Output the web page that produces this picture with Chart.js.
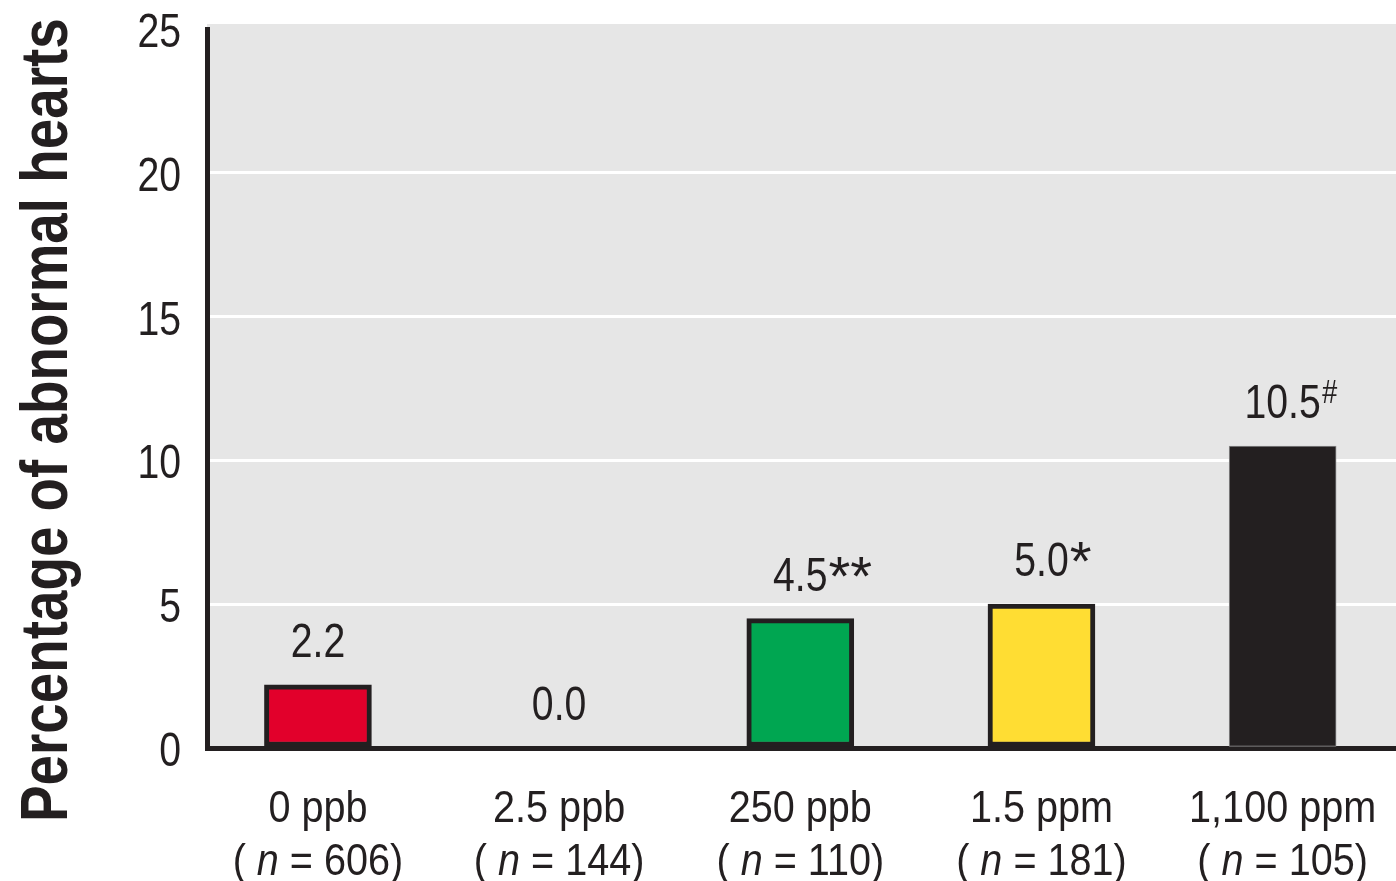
<!DOCTYPE html>
<html>
<head>
<meta charset="utf-8">
<script src="https://cdn.jsdelivr.net/npm/chart.js@4"></script>
<style>
    html, body { margin: 0; padding: 0; background: #ffffff; overflow: hidden; }
    #wrap { width: 1396px; height: 881px; }
</style>
</head>
<body>
<div id="wrap"><canvas id="heartChart"></canvas></div>
<script>
const doses = ['0 ppb', '2.5 ppb', '250 ppb', '1.5 ppm', '1,100 ppm'];
const sampleSizes = [606, 144, 110, 181, 105];
const percentAbnormal = [2.2, 0.0, 4.5, 5.0, 10.5];
const significance = ['', '', '**', '*', '#'];
const yTicks = [0, 5, 10, 15, 20, 25];
const yTitle = 'Percentage of abnormal hearts';

const ink = '#231f20';
const face = "'Liberation Sans', Arial, sans-serif";

Chart.defaults.font.family = face;
Chart.defaults.color = ink;

// draws text squeezed horizontally to look like a condensed face
function narrowText(ctx, s, x, y, font, sx, align) {
    ctx.save();
    ctx.font = font;
    const w = ctx.measureText(s).width * sx;
    let left = x;
    if (align === 'center') left = x - w / 2;
    if (align === 'right') left = x - w;
    ctx.translate(left, y);
    ctx.scale(sx, 1);
    ctx.textAlign = 'left';
    ctx.textBaseline = 'alphabetic';
    ctx.fillText(s, 0, 0);
    ctx.restore();
    return w;
}

let labelsPlugin = {
    id: 'heartLabels',
    beforeDraw: function (chart) {
        const ctx = chart.ctx;
        const a = chart.chartArea;
        ctx.save();
        ctx.fillStyle = '#ffffff';
        ctx.fillRect(0, 0, chart.width, chart.height);
        ctx.fillStyle = '#e6e6e6';
        ctx.fillRect(a.left, a.top - 5, a.right - a.left, a.bottom - a.top + 5);
        ctx.restore();
    },
    afterDatasetsDraw: function (chart) {
        const ctx = chart.ctx;
        const x = chart.scales.x;
        const y = chart.scales.y;
        ctx.save();
        ctx.fillStyle = ink;

        // y tick labels
        yTicks.forEach(function (t) {
            narrowText(ctx, String(t), 181, y.getPixelForValue(t) + 18, '49px ' + face, 0.8, 'right');
        });

        // values above bars
        percentAbnormal.forEach(function (v, i) {
            const cx = x.getPixelForValue(i);
            const by = y.getPixelForValue(v) - 28;
            const w = narrowText(ctx, v.toFixed(1), cx, by, '49px ' + face, 0.8, 'center');
            const mark = significance[i];
            if (mark === '#') {
                narrowText(ctx, mark, cx + w / 2 + 1, by - 15, 'italic 34px ' + face, 0.8, 'left');
            } else if (mark) {
                narrowText(ctx, mark, cx + w / 2 + 1, by + 4, '56px ' + face, 1, 'left');
            }
        });

        // two-line category labels
        doses.forEach(function (d, i) {
            const cx = x.getPixelForValue(i);
            narrowText(ctx, d, cx, 822, '45px ' + face, 0.88, 'center');

            const p1 = '( ';
            const p2 = 'n';
            const p3 = ' = ' + sampleSizes[i] + ')';
            ctx.font = '45px ' + face;
            const w1 = ctx.measureText(p1).width * 0.88;
            const w3 = ctx.measureText(p3).width * 0.88;
            ctx.font = 'italic 45px ' + face;
            const w2 = ctx.measureText(p2).width * 0.88;
            const sx = cx - (w1 + w2 + w3) / 2;
            narrowText(ctx, p1, sx, 875, '45px ' + face, 0.88, 'left');
            narrowText(ctx, p2, sx + w1, 875, 'italic 45px ' + face, 0.88, 'left');
            narrowText(ctx, p3, sx + w1 + w2, 875, '45px ' + face, 0.88, 'left');
        });

        // y axis title
        ctx.translate(67, 822);
        ctx.rotate(-Math.PI / 2);
        narrowText(ctx, yTitle, 0, 0, 'bold 66px ' + face, 0.83, 'left');
        ctx.restore();
    }
};

let heartChart = new Chart(document.getElementById('heartChart'), {
    type: 'bar',
    data: {
        datasets: [{
            data: percentAbnormal.map(function (v, i) { return {x: i, y: v}; }),
            backgroundColor: ['#e2002b', '#e2002b', '#00a651', '#ffdd33', ink],
            borderColor: [ink, ink, ink, ink, '#8a8a8a'],
            borderWidth: [5, 5, 5, 5, 1],
            borderSkipped: false,
            barThickness: 107
        }]
    },
    options: {
        responsive: true,
        maintainAspectRatio: false,
        animation: false,
        layout: {
            padding: {top: 29, right: 0, bottom: 0, left: 0}
        },
        plugins: {
            legend: {display: false},
            tooltip: {enabled: false}
        },
        scales: {
            x: {
                type: 'linear',
                offset: false,
                min: -0.46,
                max: 4.47,
                grid: {display: false},
                ticks: {display: false},
                border: {display: true, color: ink, width: 5},
                afterFit: function (scale) { scale.height = 133; }
            },
            y: {
                min: yTicks[0],
                max: yTicks[yTicks.length - 1],
                afterBuildTicks: function (scale) {
                    scale.ticks = yTicks.map(function (t) { return {value: t}; });
                },
                grid: {
                    drawTicks: false,
                    lineWidth: 3,
                    color: function (c) {
                        return (c.tick && (c.tick.value === 0 || c.tick.value === 25)) ? 'rgba(0,0,0,0)' : '#ffffff';
                    }
                },
                border: {display: true, color: ink, width: 5},
                ticks: {display: false},
                afterFit: function (scale) { scale.width = 207; }
            }
        }
    },
    plugins: [labelsPlugin]
});
</script>
</body>
</html>
